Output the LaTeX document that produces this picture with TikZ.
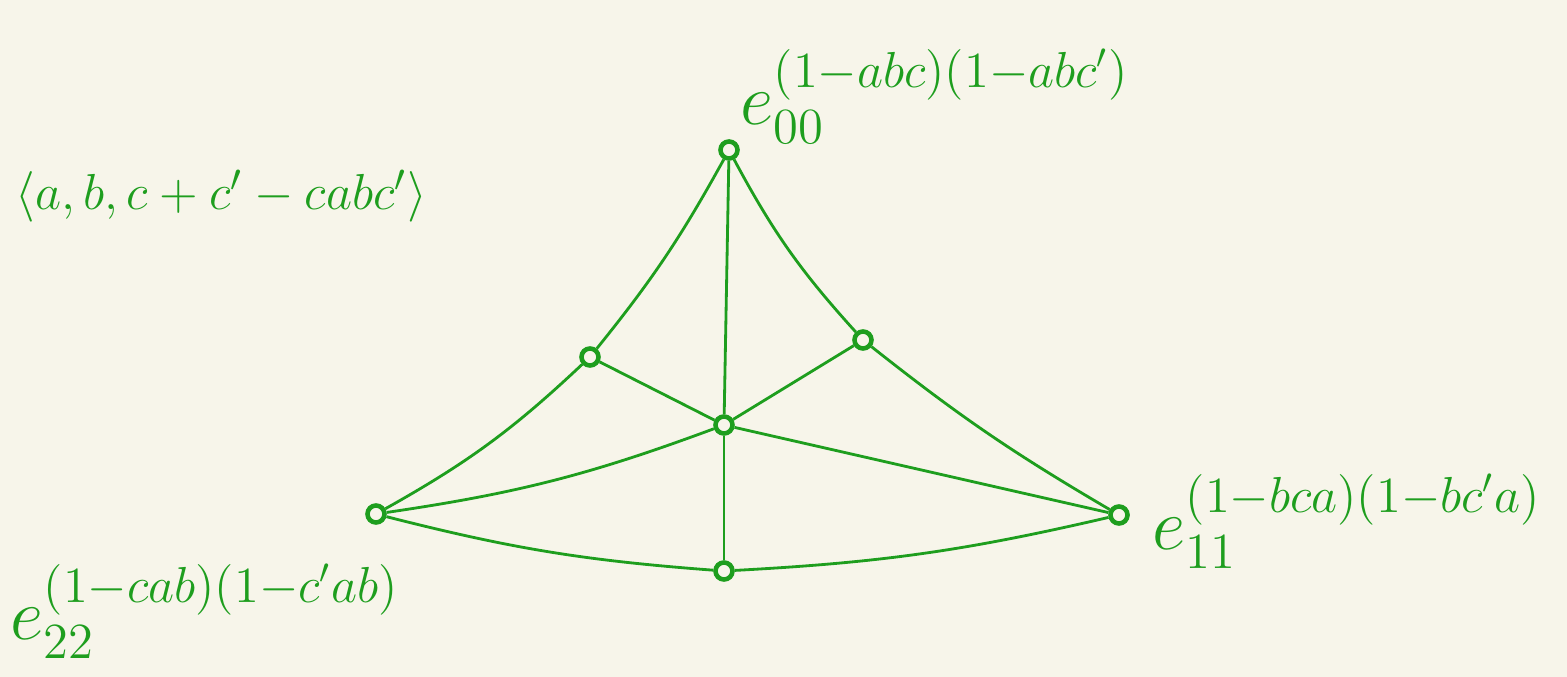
\documentclass[tikz,border=0pt]{standalone}
\usepackage{amsmath,amssymb}
\usepackage{tikz}
\usetikzlibrary{positioning,calc}
\definecolor{Ink}{HTML}{1E9E1E}
\definecolor{Paper}{HTML}{F7F5EA}

\begin{document}
\begin{tikzpicture}[
    x=0.01cm,y=-0.01cm,
    vert/.style={circle,draw=Ink,line width=1.3pt,inner sep=0pt,minimum size=0.17cm},
    edge/.style={draw=Ink,line width=0.8pt},
    lbl/.style={text=Ink,inner sep=0pt,font=\fontsize{20}{24}\selectfont}
]
\fill[Paper] (0,0) rectangle (1567,677);
\useasboundingbox (0,0) rectangle (1567,677);

\node[vert] (top) at (729,150) {};
\node[vert] (left) at (376,514) {};
\node[vert] (right) at (1119,515) {};
\node[vert] (centre) at (724,425) {};
\node[vert] (tl) at (590,357) {};
\node[vert] (tr) at (863,340) {};
\node[vert] (bot) at (724,571) {};

% outer triangle
\draw[edge] (top) to[bend left=5] (tl);
\draw[edge] (tl) to[bend left=7] (left);
\draw[edge] (top) to[bend right=7] (tr);
\draw[edge] (tr) to[bend right=4] (right);
\draw[edge] (left) to[bend right=5] (bot);
\draw[edge] (bot) to[bend right=5] (right);
% inner edges
\draw[edge] (top) -- (centre);
\draw[edge] (centre) -- (bot);
\draw[edge] (tl) -- (centre);
\draw[edge] (centre) -- (tr);
\draw[edge] (centre) to[bend left=6] (left);
\draw[edge] (centre) -- (right);

\node[lbl,anchor=base west,font=\fontsize{15}{18}\selectfont] (ideal) at (15,210) {$\langle a,b,c+c'-cabc'\rangle$};
\node[lbl,anchor=base west] (etop) at (740,125) {$e_{00}^{(1-abc)(1-abc')}$};
\node[lbl,anchor=base west] (eleft) at (10,640) {$e_{22}^{(1-cab)(1-c'ab)}$};
\node[lbl,anchor=base west] (eright) at (1152,550) {$e_{11}^{(1-bca)(1-bc'a)}$};
\end{tikzpicture}
\end{document}
